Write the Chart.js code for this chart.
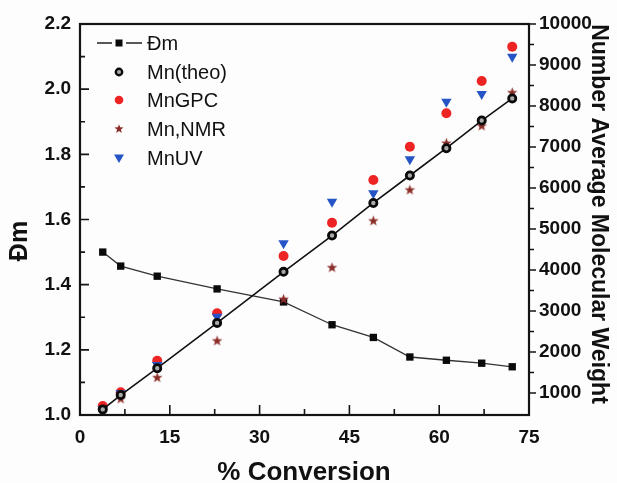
<!DOCTYPE html>
<html><head><meta charset="utf-8">
<script src="https://cdn.jsdelivr.net/npm/chart.js@4.4.1/dist/chart.umd.min.js"></script>
<style>html,body{margin:0;padding:0;background:#fdfdfd;}canvas{display:block}</style>
</head><body>
<canvas id="c" width="617" height="483"></canvas>
<script>
// ---- data ----
const conversion = [3.8, 6.8, 12.9, 22.9, 34.0, 42.1, 49.0, 55.1, 61.2, 67.1, 72.2];
const dm     = [1.500, 1.457, 1.426, 1.387, 1.347, 1.277, 1.238, 1.178, 1.168, 1.159, 1.148];
const mnTheo = [600, 950, 1605, 2710, 3955, 4840, 5635, 6305, 6970, 7645, 8185];
const mnGPC  = [683, 1017, 1788, 2944, 4341, 5154, 6195, 7007, 7822, 8610, 9446];
const mnNMR  = [568, 854, 1373, 2268, 3285, 4056, 5195, 5951, 7090, 7512, 8324];
const mnUV   = [602, 993, 1683, 2861, 4651, 5666, 5871, 6700, 8105, 8293, 9202];

const xTicks  = [0, 15, 30, 45, 60, 75];
const xMinor  = [7.5, 22.5, 37.5, 52.5, 67.5];
const dmTicks = [1.0, 1.2, 1.4, 1.6, 1.8, 2.0, 2.2];
const dmMinor = [1.1, 1.3, 1.5, 1.7, 1.9, 2.1];
const mwTicks = [1000, 2000, 3000, 4000, 5000, 6000, 7000, 8000, 9000, 10000];
const mwMinor = [1500, 2500, 3500, 4500, 5500, 6500, 7500, 8500, 9500];

const seriesLabels = ['Đm', 'Mn(theo)', 'MnGPC', 'Mn,NMR', 'MnUV'];
const xTitle = '% Conversion';
const yTitle = 'Đm';
const y1Title = 'Number Average Molecular Weight';

const RED = '#ee2424', BLUE = '#2454c6', BROWN = '#8c2e2a';
const FONT = '"Liberation Sans", Arial, sans-serif';

function pts(ys) { return conversion.map((x, i) => ({ x: x, y: ys[i] })); }

function makeStar(r, color) {
  const s = Math.ceil(r * 2 + 2);
  const c = document.createElement('canvas');
  c.width = s; c.height = s;
  const g = c.getContext('2d');
  g.fillStyle = color;
  g.beginPath();
  for (let i = 0; i < 10; i++) {
    const a = -Math.PI / 2 + i * Math.PI / 5;
    const rr = (i % 2) ? r * 0.42 : r;
    g.lineTo(s / 2 + rr * Math.cos(a), s / 2 + rr * Math.sin(a));
  }
  g.closePath(); g.fill();
  return c;
}
const starBig = makeStar(5.5, BROWN);
const starSmall = makeStar(4.8, BROWN);

const framePlugin = {
  id: 'frame',
  afterDatasetsDraw(chart) {
    const ctx = chart.ctx, ca = chart.chartArea;
    const xs = chart.scales.x, ys = chart.scales.y, y1 = chart.scales.y1;
    ctx.save();
    ctx.strokeStyle = '#141414';
    ctx.lineWidth = 1.6;
    ctx.beginPath();
    xTicks.forEach(v => { const p = xs.getPixelForValue(v); ctx.moveTo(p, ca.bottom); ctx.lineTo(p, ca.bottom - 10); });
    xMinor.forEach(v => { const p = xs.getPixelForValue(v); ctx.moveTo(p, ca.bottom); ctx.lineTo(p, ca.bottom - 6); });
    dmTicks.forEach(v => { const p = ys.getPixelForValue(v); ctx.moveTo(ca.left, p); ctx.lineTo(ca.left + 9, p); });
    dmMinor.forEach(v => { const p = ys.getPixelForValue(v); ctx.moveTo(ca.left, p); ctx.lineTo(ca.left + 5, p); });
    mwTicks.forEach(v => { const p = y1.getPixelForValue(v); ctx.moveTo(ca.right, p); ctx.lineTo(ca.right + 7, p); });
    mwMinor.forEach(v => { const p = y1.getPixelForValue(v); ctx.moveTo(ca.right, p); ctx.lineTo(ca.right + 5, p); });
    ctx.stroke();
    ctx.lineWidth = 2.2;
    ctx.strokeRect(ca.left, ca.top, ca.right - ca.left, ca.bottom - ca.top);
    ctx.restore();
  },
  afterDraw(chart) {
    const ctx = chart.ctx;
    ctx.save();
    ctx.fillStyle = '#111';
    // axis titles
    ctx.font = 'bold 26px ' + FONT;
    ctx.textAlign = 'center'; ctx.textBaseline = 'alphabetic';
    ctx.fillText(xTitle, 304, 480);
    ctx.save();
    ctx.translate(27, 241); ctx.rotate(-Math.PI / 2);
    ctx.font = 'bold 25px ' + FONT;
    ctx.fillText(yTitle, 0, 0);
    ctx.restore();
    ctx.save();
    ctx.translate(592, 214); ctx.rotate(Math.PI / 2);
    ctx.font = 'bold 23px ' + FONT;
    ctx.fillText(y1Title, 0, 0);
    ctx.restore();
    // legend
    const rows = [43, 72, 100, 129, 158];
    const sx = 119, tx = 147;
    ctx.font = '20px ' + FONT;
    ctx.textAlign = 'left'; ctx.textBaseline = 'middle';
    seriesLabels.forEach((t, i) => ctx.fillText(t, tx, rows[i] + 1));
    // symbols
    ctx.strokeStyle = '#222'; ctx.lineWidth = 1.4;
    ctx.beginPath(); ctx.moveTo(97, rows[0]); ctx.lineTo(112, rows[0]); ctx.moveTo(126, rows[0]); ctx.lineTo(142, rows[0]); ctx.stroke();
    ctx.fillStyle = '#0a0a0a'; ctx.fillRect(sx - 3.5, rows[0] - 3.5, 7, 7);
    ctx.beginPath(); ctx.arc(sx, rows[1], 3.2, 0, Math.PI * 2);
    ctx.fillStyle = '#aaa'; ctx.fill(); ctx.lineWidth = 2.4; ctx.strokeStyle = '#0a0a0a'; ctx.stroke();
    ctx.beginPath(); ctx.arc(sx, rows[2], 4.3, 0, Math.PI * 2); ctx.fillStyle = RED; ctx.fill();
    ctx.drawImage(starSmall, sx - starSmall.width / 2, rows[3] - starSmall.height / 2);
    ctx.beginPath();
    ctx.moveTo(sx - 5, rows[4] - 3.5); ctx.lineTo(sx + 5, rows[4] - 3.5); ctx.lineTo(sx, rows[4] + 5); ctx.closePath();
    ctx.fillStyle = BLUE; ctx.fill();
    ctx.restore();
  }
};

const tickFont = { family: FONT, size: 19, weight: 'bold' };

new Chart(document.getElementById('c'), {
  type: 'scatter',
  data: {
    datasets: [
      { label: seriesLabels[0], data: pts(dm), yAxisID: 'y', showLine: true, borderColor: '#333', borderWidth: 1.3,
        pointStyle: 'rect', pointRadius: 5.2, pointBackgroundColor: '#0a0a0a', pointBorderColor: '#0a0a0a', pointBorderWidth: 0, order: 5 },
      { label: seriesLabels[1], data: pts(mnTheo), yAxisID: 'y1', showLine: true, borderColor: '#111', borderWidth: 1.6,
        pointStyle: 'circle', pointRadius: 3.6, pointBackgroundColor: '#aaa', pointBorderColor: '#0a0a0a', pointBorderWidth: 2.8, order: 1 },
      { label: seriesLabels[2], data: pts(mnGPC), yAxisID: 'y1', showLine: false,
        pointStyle: 'circle', pointRadius: 5, pointBackgroundColor: RED, pointBorderColor: RED, pointBorderWidth: 0, order: 4 },
      { label: seriesLabels[3], data: pts(mnNMR), yAxisID: 'y1', showLine: false,
        pointStyle: starBig, pointRadius: 5, order: 3 },
      { label: seriesLabels[4], data: pts(mnUV), yAxisID: 'y1', showLine: false,
        pointStyle: 'triangle', rotation: 180, pointRadius: 6, pointBackgroundColor: BLUE, pointBorderColor: BLUE, pointBorderWidth: 0, order: 2 }
    ]
  },
  options: {
    responsive: false,
    animation: false,
    devicePixelRatio: 1,
    layout: { padding: { top: 24, left: 0, right: 0, bottom: 0 } },
    plugins: { legend: { display: false }, tooltip: { enabled: false } },
    scales: {
      x: {
        type: 'linear', position: 'bottom', min: 0, max: 75,
        afterBuildTicks: s => { s.ticks = xTicks.map(v => ({ value: v })); },
        afterFit: s => { s.height = 68; },
        grid: { display: false, drawTicks: false }, border: { display: false },
        ticks: { font: tickFont, color: '#111', padding: 11, maxRotation: 0, callback: v => String(v) }
      },
      y: {
        type: 'linear', position: 'left', min: 1.0, max: 2.2,
        afterBuildTicks: s => { s.ticks = dmTicks.map(v => ({ value: v })); },
        afterFit: s => { s.width = 80; },
        grid: { display: false, drawTicks: false }, border: { display: false },
        ticks: { font: tickFont, color: '#111', padding: 9, callback: v => Number(v).toFixed(1) }
      },
      y1: {
        type: 'linear', position: 'right', min: 463, max: 10000,
        afterBuildTicks: s => { s.ticks = mwTicks.map(v => ({ value: v })); },
        afterFit: s => { s.width = 88; },
        grid: { display: false, drawTicks: false }, border: { display: false },
        ticks: { font: tickFont, color: '#111', padding: 10, callback: v => String(v) }
      }
    }
  },
  plugins: [framePlugin]
});
</script>
</body></html>
